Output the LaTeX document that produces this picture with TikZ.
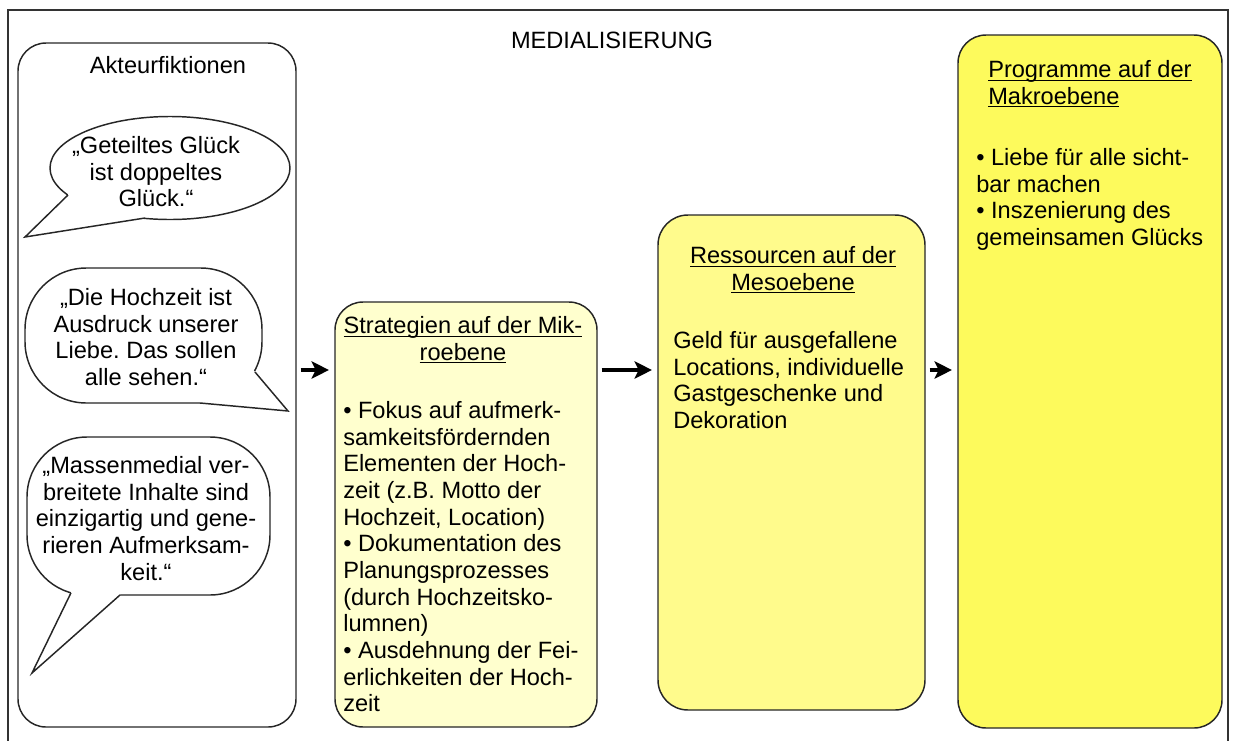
\documentclass[tikz,border=0pt]{standalone}
\usepackage{fontspec}
\setmainfont{Liberation Sans}
\usetikzlibrary{arrows.meta}
\frenchspacing
\definecolor{framecol}{gray}{0.2}
\definecolor{mikfill}{RGB}{255,255,206}
\definecolor{mesofill}{RGB}{255,251,140}
\definecolor{makfill}{RGB}{253,250,92}
\newcommand\myul[1]{\setbox0\hbox{#1}\rlap{\rule[-2.4pt]{\wd0}{0.8pt}}\box0}
\begin{document}
\begin{tikzpicture}[x=0.75pt,y=-0.75pt,
  txt/.style={font=\fontsize{17.7pt}{20pt}\selectfont, inner sep=0pt, text=black},
  box/.style={draw=black!85, line width=1.1pt, rounded corners=21pt, inner sep=0pt},
  bubble/.style={draw=black!85, line width=1.1pt, fill=white},
  tailline/.style={draw=black!85, line width=1.1pt, line join=miter},
  arr/.style={line width=2.6pt, -{Stealth[length=13pt,width=13pt,inset=3pt]}, shorten <=3pt, shorten >=4pt}]
\useasboundingbox (0,0) rectangle (1233,740);
\clip (0,0) rectangle (1233,740);
% outer frame
\draw[framecol, line width=1.5pt] (8,760) -- (8,10) -- (1228,10) -- (1228,760);
% boxes
\node[box, minimum width=208.5pt, minimum height=513pt] (act) at (157,385) {};
\node[box, fill=mikfill, minimum width=196.5pt, minimum height=318.75pt] (mik) at (466,514.5) {};
\node[box, fill=mesofill, rounded corners=22.5pt, minimum width=200.25pt, minimum height=371.25pt] (meso) at (791.5,462.5) {};
\node[box, fill=makfill, minimum width=198pt, minimum height=519.75pt] (mak) at (1090,381.5) {};
% bubble 1
\draw[bubble] (170,168) ellipse [x radius=120, y radius=51.5];
\fill[white] (68,190) -- (68,195) -- (25,237) -- (145,218) -- (145,212) -- cycle;
\draw[tailline] (68,195) -- (25,237) -- (145,218);
% bubble 2
\draw[bubble, rounded corners=46pt] (25,268) rectangle (262,403);
\fill[white] (250,366) -- (255,372) -- (288,411) -- (200,403) -- (200,397) -- cycle;
\draw[tailline] (255,372) -- (288,411) -- (200,403);
% bubble 3
\draw[bubble, rounded corners=45pt] (27,437) rectangle (270,595);
\fill[white] (71,588) -- (71,592.8) -- (32,673) -- (120,595) -- (120,590) -- cycle;
\draw[tailline] (71,592.8) -- (32,673) -- (120,595);
% texts
\node[txt, anchor=base] (title) at (612,48) {MEDIALISIERUNG};
\node[txt, anchor=base] (actT) at (168,73) {Akteurfiktionen};
\node[txt, align=center, anchor=north] (q1) at (156,136) {„Geteiltes Glück\\ist doppeltes\\Glück.“};
\node[txt, align=center, anchor=north] (q2) at (146,288) {„Die Hochzeit ist\\Ausdruck unserer\\Liebe. Das sollen\\alle sehen.“};
\node[txt, align=center, anchor=north] (q3) at (146,456) {„Massenmedial ver-\\breitete Inhalte sind\\einzigartig und gene-\\rieren Aufmerksam-\\keit.“};
\node[txt, align=center, anchor=north] (mikT) at (463,316) {\myul{Strategien auf der Mik-}\\\myul{roebene}};
\node[txt, align=left, anchor=north west] (mikB) at (343,401) {• Fokus auf aufmerk-\\samkeitsfördernden\\Elementen der Hoch-\\zeit (z.B. Motto der\\Hochzeit, Location)\\• Dokumentation des\\Planungsprozesses\\(durch Hochzeitsko-\\lumnen)\\• Ausdehnung der Fei-\\erlichkeiten der Hoch-\\zeit};
\node[txt, align=center, anchor=north] (mesoT) at (793,246) {\myul{Ressourcen auf der}\\\myul{Mesoebene}};
\node[txt, align=left, anchor=north west] (mesoB) at (673,331) {Geld für ausgefallene\\Locations, individuelle\\Gastgeschenke und\\Dekoration};
\node[txt, align=left, anchor=north west] (makT) at (988,60) {\myul{Programme auf der}\\\myul{Makroebene}};
\node[txt, align=left, anchor=north west] (makB) at (976,148) {• Liebe für alle sicht-\\bar machen\\• Inszenierung des\\gemeinsamen Glücks};
% arrows
\coordinate (ay) at (0,370);
\draw[arr] (act.east |- ay) -- (mik.west |- ay);
\draw[arr] (mik.east |- ay) -- (meso.west |- ay);
\draw[arr] (meso.east |- ay) -- (mak.west |- ay);
\end{tikzpicture}
\end{document}
